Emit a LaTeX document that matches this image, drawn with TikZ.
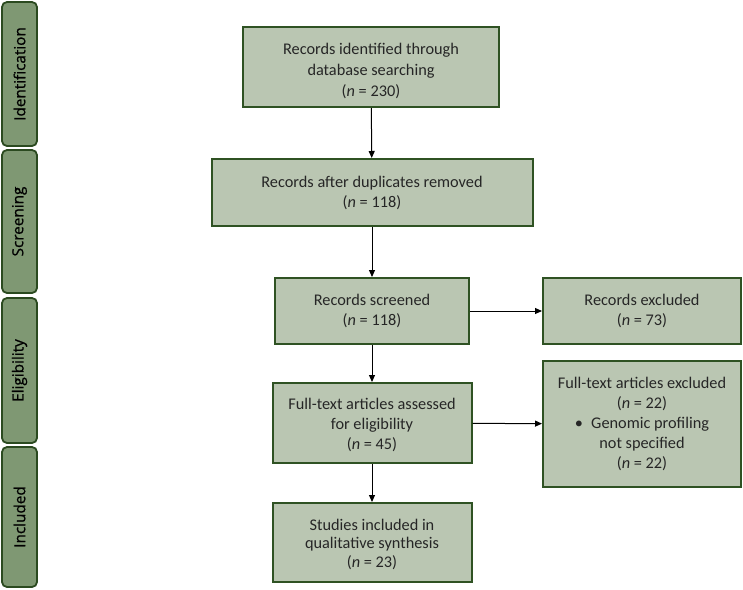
\documentclass[tikz,border=0pt]{standalone}
\usepackage{fontspec}
\setmainfont{Carlito}
\newfontfamily\tabfont[FakeBold=0.8]{Open Sans}
\usepackage{tikz}
\usetikzlibrary{arrows.meta}
\definecolor{boxfill}{HTML}{BAC6B2}
\definecolor{boxline}{HTML}{2F5223}
\definecolor{tabfill}{HTML}{7F9873}
\definecolor{tabline}{HTML}{2B4A20}
\tikzstyle{flowbox}=[
        draw=boxline,
        fill=boxfill,
        line width=2pt,
        align=center,
        inner sep=0pt,
        text=black!85,
        font=\fontsize{16.3}{20}\selectfont
]
\tikzstyle{phase}=[
        draw=tabline,
        fill=tabfill,
        line width=1.8pt,
        rounded corners=5pt,
        rotate=90,
        inner sep=0pt,
        minimum height=35pt,
        font=\tabfont\fontsize{15.3}{17}\selectfont
]
\tikzstyle{flow}=[
        -{Triangle[length=7pt,width=6pt]},
        line width=1pt
]

\begin{document}
\begin{tikzpicture}[x=1pt,y=-1pt]
                        \useasboundingbox (0,0) rectangle (743,589);

                        \node[phase, minimum width=144pt] (ident) at (19.5,74) {Identification};
                        \node[phase, minimum width=143pt] (screen) at (19.5,221.5) {Screening};
                        \node[phase, minimum width=145pt] (elig) at (19.5,370.5) {Eligibility};
                        \node[phase, minimum width=140pt] (incl) at (19.5,517) {Included};

                        \node[flowbox, minimum width=256pt, minimum height=80pt, font=\fontsize{16.3}{21}\selectfont] (found) at (371,67)
                            {\rule{0pt}{20pt}Records identified through\\database searching\\(\textit{n} = 230)};
                        \node[flowbox, minimum width=321pt, minimum height=67pt] (dedup) at (372,192.5)
                            {Records after duplicates removed\\(\textit{n} = 118)};
                        \node[flowbox, minimum width=194pt, minimum height=66pt] (screened) at (372,311)
                            {Records screened\\(\textit{n} = 118)};
                        \node[flowbox, minimum width=198pt, minimum height=66pt] (excl) at (642,311)
                            {Records excluded\\(\textit{n} = 73)};
                        \node[flowbox, minimum width=199pt, minimum height=80pt] (fulltext) at (372,423)
                            {\rule{0pt}{15pt}Full-text articles assessed\\for eligibility\\(\textit{n} = 45)};
                        \node[flowbox, minimum width=198pt, minimum height=126pt] (ftexcl) at (642,424)
                            {Full-text articles excluded\\(\textit{n} = 22)\\\textbullet\enspace Genomic profiling\\not specified\\(\textit{n} = 22)};
                        \node[flowbox, minimum width=199pt, minimum height=79pt, font=\fontsize{16.3}{18.5}\selectfont] (studies) at (372,542.5)
                            {\rule{0pt}{15pt}Studies included in\\qualitative synthesis\\(\textit{n} = 23)};

                        \draw[flow] (found) -- (dedup);
                        \draw[flow] (dedup) -- (screened);
                        \draw[flow] (screened) -- (fulltext);
                        \draw[flow] (fulltext) -- (studies);
                        \draw[flow] (screened) -- (excl);
                        \draw[flow] (fulltext) -- (ftexcl);

                    \end{tikzpicture}
\end{document}
